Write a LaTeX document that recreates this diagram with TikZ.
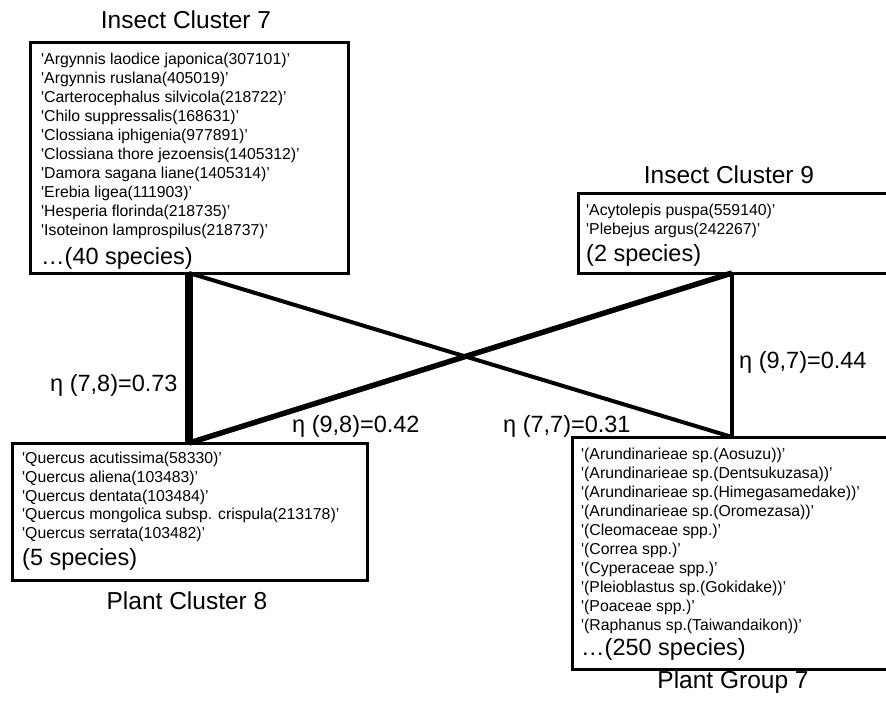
\documentclass[tikz,border=0pt]{standalone}
\usepackage{fontspec}
\setmainfont{Liberation Sans}
\begin{document}
\begin{tikzpicture}[x=1pt,y=-1pt,
  box/.style={draw, line width=3pt, outer sep=0pt, inner sep=0pt, anchor=north west},
  sp/.style={font=\fontsize{15.8}{19}\selectfont, anchor=base west, inner sep=0pt},
  cnt/.style={font=\fontsize{23.5}{28}\selectfont, anchor=base west, inner sep=0pt},
  ttl/.style={font=\fontsize{24.5}{28}\selectfont, anchor=base, inner sep=0pt},
  eta/.style={font=\fontsize{23.5}{28}\selectfont, anchor=base west, inner sep=0pt}]
\useasboundingbox (0,0) rectangle (886,705);
\clip (0,0) rectangle (886,705);
\fill[white] (0,0) rectangle (886,705);

% boxes
\node[box, minimum width=318pt, minimum height=231pt] (ic7) at (30,42) {};
\node[box, minimum width=330pt, minimum height=80pt] (ic9) at (578,193) {};
\node[box, minimum width=355pt, minimum height=137pt] (pc8) at (12,443) {};
\node[box, minimum width=330pt, minimum height=232pt] (pg7) at (572,437) {};

% species lists
\foreach \t [count=\i from 0] in {{Argynnis laodice japonica(307101)},{Argynnis ruslana(405019)},{Carterocephalus silvicola(218722)},{Chilo suppressalis(168631)},{Clossiana iphigenia(977891)},{Clossiana thore jezoensis(1405312)},{Damora sagana liane(1405314)},{Erebia ligea(111903)},{Hesperia florinda(218735)},{Isoteinon lamprospilus(218737)}}
  \node[sp] (ic7s\i) at (41,{64.5+19*\i}) {\textquotesingle\t'};
\foreach \t [count=\i from 0] in {{Acytolepis puspa(559140)},{Plebejus argus(242267)}}
  \node[sp] (ic9s\i) at (586,{215.5+18.8*\i}) {\textquotesingle\t'};
\foreach \t [count=\i from 0] in {{Quercus acutissima(58330)},{Quercus aliena(103483)},{Quercus dentata(103484)},{Quercus mongolica subsp. crispula(213178)},{Quercus serrata(103482)}}
  \node[sp] (pc8s\i) at (22,{463.5+18.75*\i}) {\textquotesingle\t'};
\foreach \t [count=\i from 0] in {{(Arundinarieae sp.(Aosuzu))},{(Arundinarieae sp.(Dentsukuzasa))},{(Arundinarieae sp.(Himegasamedake))},{(Arundinarieae sp.(Oromezasa))},{(Cleomaceae spp.)},{(Correa spp.)},{(Cyperaceae spp.)},{(Pleioblastus sp.(Gokidake))},{(Poaceae spp.)},{(Raphanus sp.(Taiwandaikon))}}
  \node[sp] (pg7s\i) at (581,{459.5+18.95*\i}) {\textquotesingle\t'};

% counts
\node[cnt] (ic7n) at (41,264) {…(40 species)};
\node[cnt] (ic9n) at (586,261.5) {(2 species)};
\node[cnt] (pc8n) at (22,565) {(5 species)};
\node[cnt] (pg7n) at (581,655) {…(250 species)};

% titles
\node[ttl] (ic7t) at (186,28) {Insect Cluster 7};
\node[ttl] (ic9t) at (729,183) {Insect Cluster 9};
\node[ttl] (pc8t) at (187,609) {Plant Cluster 8};
\node[ttl] (pg7t) at (733,688) {Plant Group 7};

% connector ends
\coordinate (a1) at ([xshift=159pt]ic7.south west);
\coordinate (a2) at ([xshift=154pt]ic9.south west);
\coordinate (b1) at ([xshift=177pt]pc8.north west);
\coordinate (b2) at ([xshift=160pt]pg7.north west);

\draw[line width=8pt] (a1) -- (b1);
\draw[line width=4pt] (a1) -- (b2);
\draw[line width=5.5pt] (a2) -- (b1);
\draw[line width=3.5pt] (a2) -- (b2);

% labels
\node[eta] (e78) at (50,391.5) {η (7,8)=0.73};
\node[eta] (e98) at (292,432) {η (9,8)=0.42};
\node[eta] (e77) at (503,432) {η (7,7)=0.31};
\node[eta] (e97) at (739,368) {η (9,7)=0.44};
\end{tikzpicture}
\end{document}
